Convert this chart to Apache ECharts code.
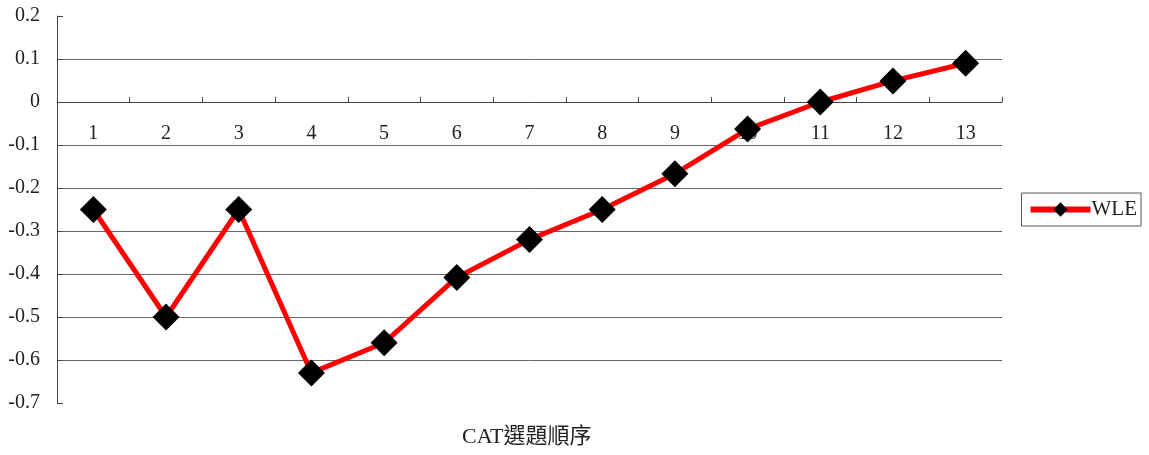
<!DOCTYPE html>
<html>
<head>
<meta charset="utf-8">
<script src="https://cdn.jsdelivr.net/npm/echarts@6/dist/echarts.min.js"></script>
<style>
  html, body { margin: 0; padding: 0; background: #fff; }
  #chart { width: 1149px; height: 455px; }
</style>
</head>
<body>
<div id="chart"></div>
<script>
// Item order in the CAT run and the WLE estimate after each item
const categories = ['1', '2', '3', '4', '5', '6', '7', '8', '9', '10', '11', '12', '13'];
const wleValues = [-0.25, -0.50, -0.25, -0.63, -0.56, -0.408, -0.32, -0.25, -0.167, -0.063, 0.0, 0.049, 0.09];
const seriesName = 'WLE';
const axisTitle = 'CAT選題順序';
const yMin = -0.7;
const yMax = 0.2;

const serif = '"Liberation Serif", "Noto Sans CJK TC", serif';

const chartHeight = 455;
const gridTop = 16;
const gridBottom = 52;
const plotHeight = chartHeight - gridTop - gridBottom;
// lift the category axis up to the zero line, keeping labels below it
const zeroOffset = -plotHeight * (0 - yMin) / (yMax - yMin);

const chart = echarts.init(document.getElementById('chart'));
chart.setOption({
  animation: false,
  backgroundColor: '#ffffff',
  grid: { left: 57, right: 147, top: gridTop, bottom: gridBottom, containLabel: false },
  legend: {
    right: 8,
    top: 193,
    orient: 'vertical',
    data: [seriesName],
    borderColor: '#555',
    borderWidth: 1,
    borderRadius: 0,
    padding: [6, 4, 6, 6],
    itemWidth: 60,
    itemHeight: 18,
    itemGap: 0,
    lineStyle: { width: 6 },
    textStyle: { fontFamily: serif, fontSize: 21, color: '#222', padding: [0, 0, 0, -4] }
  },
  xAxis: {
    type: 'category',
    data: categories,
    boundaryGap: true,
    position: 'bottom',
    offset: zeroOffset,
    axisLine: { onZero: false, lineStyle: { color: '#444', width: 1 } },
    axisTick: { show: true, inside: true, length: 5, lineStyle: { color: '#444' } },
    axisLabel: { margin: 22, fontFamily: serif, fontSize: 20, color: '#222' },
    splitLine: { show: false }
  },
  yAxis: {
    type: 'value',
    min: yMin,
    max: yMax,
    interval: 0.1,
    axisLine: { show: true, lineStyle: { color: '#444', width: 1 } },
    axisTick: { show: true, inside: true, length: 6, lineStyle: { color: '#444' } },
    axisLabel: {
      margin: 17,
      fontFamily: serif,
      fontSize: 20,
      color: '#222',
      formatter: v => {
        const r = Math.round(v * 10) / 10;
        return r === 0 ? '0' : String(r);
      }
    },
    splitLine: { show: true, showMinLine: false, showMaxLine: false, lineStyle: { color: '#666', width: 1 } }
  },
  graphic: [{
    type: 'text',
    left: 462,
    top: 426,
    style: { text: axisTitle, font: '22px ' + serif, fill: '#222' }
  }],
  series: [{
    name: seriesName,
    type: 'line',
    data: wleValues,
    symbol: 'diamond',
    symbolSize: 27,
    lineStyle: { color: '#ff0000', width: 5 },
    itemStyle: { color: '#000000' },
    z: 5
  }]
});
</script>
</body>
</html>
